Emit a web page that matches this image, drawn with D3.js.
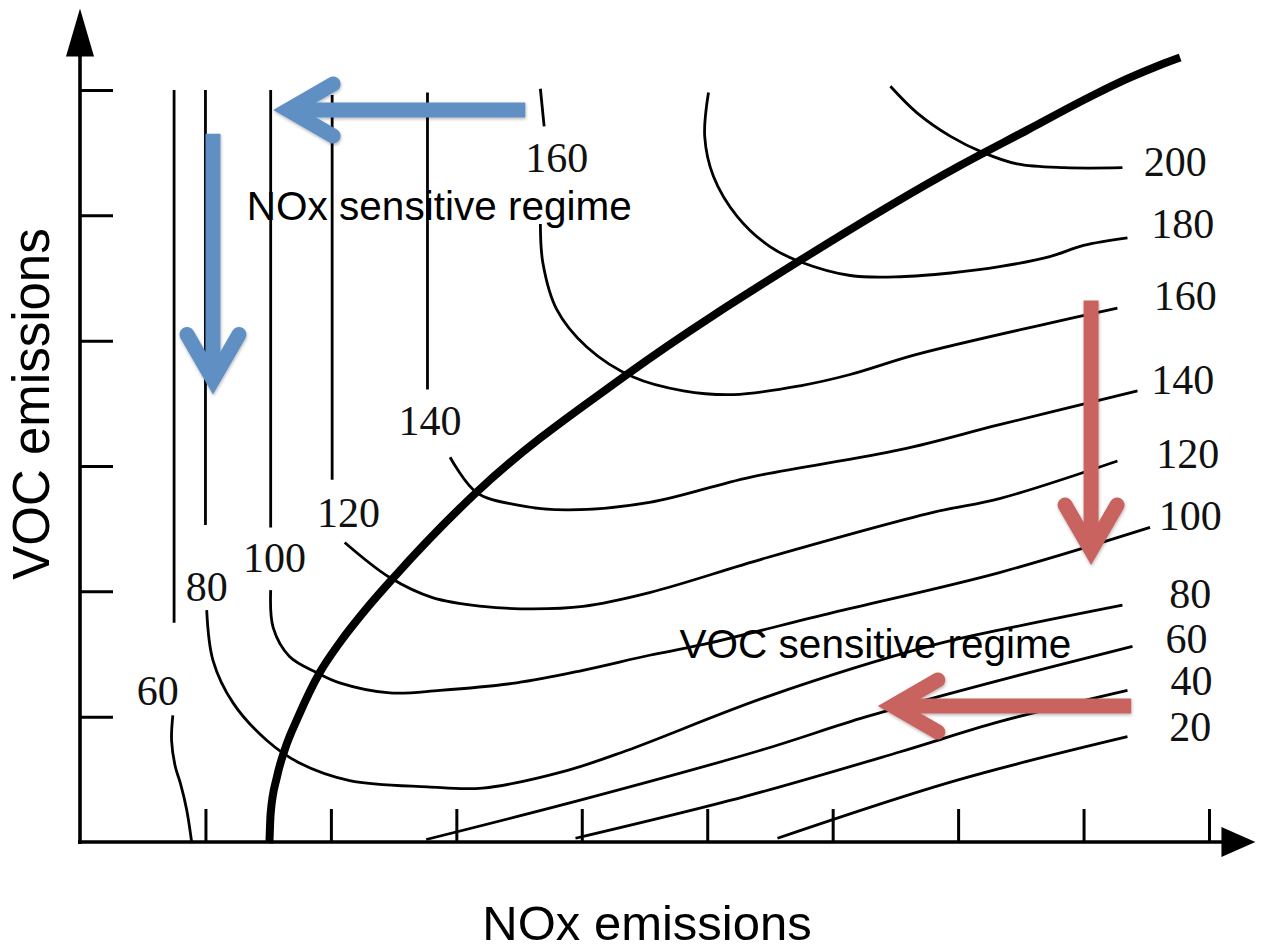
<!DOCTYPE html>
<html>
<head>
<meta charset="utf-8">
<script src="https://cdn.jsdelivr.net/npm/d3@7"></script>
<style>
  html, body { margin: 0; padding: 0; background: #fff; }
  svg { display: block; }
</style>
</head>
<body>
<svg id="chart" width="1271" height="950"></svg>
<script>
// Ozone isopleth diagram: peak ozone (ppb) as a function of NOx and VOC emissions.
// Coordinates are [NOx, VOC] in arbitrary emission units.

const xTicks = [1, 2, 3, 4, 5, 6, 7, 8, 9];
const yTicks = [1, 2, 3, 4, 5, 6];

// Each isopleth is a list of drawn pieces (split where its label sits).
const iso20 = [
  [[5.56, 0.03], [6.98, 0.49], [8.35, 0.84]]
];
const iso40 = [
  [[3.95, 0.03], [5.29, 0.36], [6.54, 0.72], [7.33, 0.96], [8.35, 1.21]]
];
const iso60 = [
  [[0.75, 6.00], [0.75, 1.75]],
  [[0.74, 1.01], [0.73, 0.81], [0.76, 0.60], [0.80, 0.47], [0.85, 0.26], [0.89, 0.00]],
  [[2.76, 0.02], [4.01, 0.34], [5.42, 0.73], [6.27, 1.00], [7.33, 1.29], [8.39, 1.56]]
];
const iso80 = [
  [[1.00, 6.00], [1.00, 2.53]],
  [[1.01, 1.85], [1.06, 1.45], [1.22, 1.11], [1.49, 0.81], [1.75, 0.63], [2.15, 0.49],
   [2.77, 0.44], [3.21, 0.43], [3.88, 0.57], [4.36, 0.73], [5.48, 1.16], [6.80, 1.57],
   [7.42, 1.71], [8.31, 1.89]]
];
const iso100 = [
  [[1.52, 6.00], [1.52, 2.51]],
  [[1.52, 2.01], [1.54, 1.71], [1.67, 1.48], [1.89, 1.35], [2.07, 1.27], [2.47, 1.19],
   [2.87, 1.21], [3.48, 1.27], [4.01, 1.37], [4.54, 1.49], [4.94, 1.57], [6.00, 1.83],
   [7.33, 2.15], [8.53, 2.51]]
];
const iso120 = [
  [[2.01, 5.96], [2.01, 2.89]],
  [[2.11, 2.39], [2.47, 2.11], [2.81, 1.95], [3.21, 1.88], [3.61, 1.86], [4.01, 1.88],
   [4.54, 1.99], [5.48, 2.27], [6.80, 2.63], [7.33, 2.74], [8.27, 3.04]]
];
const iso140 = [
  [[2.77, 5.98], [2.77, 3.61]],
  [[2.95, 3.07], [3.16, 2.79], [3.48, 2.69], [3.88, 2.65], [4.54, 2.71], [5.34, 2.91],
   [6.54, 3.13], [7.33, 3.33], [8.43, 3.60]]
];
const iso160 = [
  [[3.67, 6.01], [3.70, 5.71]],
  [[3.67, 4.93], [3.69, 4.62], [3.80, 4.25], [4.04, 3.95], [4.41, 3.71], [4.81, 3.60],
   [5.21, 3.57], [5.74, 3.64], [6.14, 3.73], [6.67, 3.89], [7.73, 4.14], [8.27, 4.26]]
];
const iso180 = [
  [[5.01, 5.98], [4.98, 5.63], [5.05, 5.31], [5.24, 4.99], [5.50, 4.75], [5.74, 4.63],
   [6.14, 4.52], [6.54, 4.51], [6.94, 4.54], [7.33, 4.59], [7.73, 4.67], [8.00, 4.76],
   [8.35, 4.82]]
];
const iso200 = [
  [[6.46, 6.03], [6.67, 5.82], [6.94, 5.63], [7.20, 5.50], [7.47, 5.41], [7.85, 5.38],
   [8.31, 5.38]]
];

// Ridge line separating the NOx-limited and VOC-limited regimes.
const ridge = [
  [1.51, -0.01], [1.52, 0.23], [1.57, 0.52], [1.63, 0.73], [1.74, 1.00], [1.91, 1.35],
  [2.07, 1.59], [2.29, 1.87], [2.50, 2.11], [3.16, 2.79], [4.36, 3.73], [5.74, 4.64],
  [7.02, 5.40], [7.55, 5.68], [8.08, 5.96], [8.35, 6.09], [8.61, 6.20], [8.77, 6.26]
];

// Level labels: [ozone level, NOx, VOC] of the label centre.
const levelLabels = [
  [60, 0.62, 1.21], [80, 1.01, 2.04], [100, 1.55, 2.27], [120, 2.14, 2.63],
  [140, 2.79, 3.36], [160, 3.80, 5.46],
  [200, 8.73, 5.43], [180, 8.79, 4.93], [160, 8.81, 4.36], [140, 8.79, 3.69],
  [120, 8.83, 3.10], [100, 8.85, 2.60], [80, 8.85, 1.98], [60, 8.82, 1.62],
  [40, 8.86, 1.29], [20, 8.85, 0.92]
];

// Emission-control arrows: tail and tip in [NOx, VOC].
const arrowTails = [[3.55, 5.84], [1.06, 5.65], [8.06, 4.32], [8.38, 1.085]];
const arrowTips  = [[1.54, 5.84], [1.06, 3.57], [8.06, 2.21], [6.36, 1.085]];
const arrowKinds = ["nox", "nox", "voc", "voc"];

const regimeNames = ["NOx sensitive regime", "VOC sensitive regime"];
const regimeAnchors = [[1.33, 4.96], [4.78, 1.47]];

const isopleths = [
  { level: 20, pieces: iso20 }, { level: 40, pieces: iso40 }, { level: 60, pieces: iso60 },
  { level: 80, pieces: iso80 }, { level: 100, pieces: iso100 }, { level: 120, pieces: iso120 },
  { level: 140, pieces: iso140 }, { level: 160, pieces: iso160 }, { level: 180, pieces: iso180 },
  { level: 200, pieces: iso200 }
];

const svg = d3.select("#chart");
const x = d3.scaleLinear().domain([0, 9]).range([80, 1209]);
const y = d3.scaleLinear().domain([0, 6]).range([842, 90]);
const arrowColor = { nox: "#5e8fc3", voc: "#c8635e" };

const defs = svg.append("defs");
const shadow = defs.append("filter").attr("id", "soft").attr("x", "-20%").attr("y", "-20%")
  .attr("width", "140%").attr("height", "140%");
shadow.append("feDropShadow").attr("dx", 0.5).attr("dy", 1.5)
  .attr("stdDeviation", 1.6).attr("flood-color", "#000").attr("flood-opacity", 0.3);

const line = d3.line().x(d => x(d[0])).y(d => y(d[1])).curve(d3.curveCatmullRom.alpha(0.5));
const ridgeLine = d3.line().x(d => x(d[0])).y(d => y(d[1])).curve(d3.curveMonotoneX);

// Isopleths
const isoG = svg.append("g").attr("fill", "none").attr("stroke", "#000")
  .attr("stroke-width", 2.8).attr("stroke-linecap", "butt");
isopleths.forEach(iso => {
  iso.pieces.forEach(piece => {
    isoG.append("path").attr("d", line(piece));
  });
});

// Ridge
svg.append("path").attr("d", ridgeLine(ridge)).attr("fill", "none")
  .attr("stroke", "#000").attr("stroke-width", 8).attr("stroke-linecap", "butt");

// Axes with inward ticks
const yAxis = svg.append("g").attr("transform", `translate(${x(0)},0)`)
  .call(d3.axisRight(y).tickValues(yTicks).tickSize(33).tickSizeOuter(0).tickFormat(""));
const xAxis = svg.append("g").attr("transform", `translate(0,${y(0)})`)
  .call(d3.axisTop(x).tickValues(xTicks).tickSize(33).tickSizeOuter(0).tickFormat(""));
[yAxis, xAxis].forEach(g => {
  g.select(".domain").remove();
  g.selectAll(".tick line").attr("stroke", "#000").attr("stroke-width", 3);
});

const x0 = x(0), y0 = y(0);
const yTip = y(6.65), xTip = x(9.37);
svg.append("line").attr("x1", x0).attr("y1", y0 + 2).attr("x2", x0).attr("y2", yTip + 46)
  .attr("stroke", "#000").attr("stroke-width", 3.6);
svg.append("line").attr("x1", x0 - 2).attr("y1", y0).attr("x2", xTip - 32).attr("y2", y0)
  .attr("stroke", "#000").attr("stroke-width", 3.6);
svg.append("path")
  .attr("d", `M${x0},${yTip} L${x0 + 14},${yTip + 48} L${x0 - 14},${yTip + 48} Z`)
  .attr("fill", "#000");
svg.append("path")
  .attr("d", `M${xTip},${y0} L${xTip - 34},${y0 - 15} L${xTip - 34},${y0 + 15} Z`)
  .attr("fill", "#000");

// Level labels
svg.append("g").selectAll("text").data(levelLabels).join("text")
  .attr("x", d => x(d[1])).attr("y", d => y(d[2])).attr("dy", "0.34em")
  .attr("text-anchor", "middle")
  .attr("font-family", "'Liberation Serif', 'Times New Roman', serif")
  .attr("font-size", 42).attr("fill", "#111")
  .text(d => d[0]);

// Regime names
svg.append("g").selectAll("text").data(regimeNames).join("text")
  .attr("x", (d, i) => x(regimeAnchors[i][0])).attr("y", (d, i) => y(regimeAnchors[i][1]))
  .attr("font-family", "'Liberation Sans', Arial, Helvetica, sans-serif")
  .attr("font-size", 40.5).attr("fill", "#000")
  .text(d => d);

// Arrows
const arrowG = svg.append("g");
arrowTails.forEach((t, i) => {
  const tx = x(t[0]), ty = y(t[1]);
  const px = x(arrowTips[i][0]), py = y(arrowTips[i][1]);
  const len = Math.hypot(px - tx, py - ty);
  const dx = (px - tx) / len, dy = (py - ty) / len;
  const nx = -dy, ny = dx;
  const w = 15, back = 45, half = 26;
  const vx = px - dx * 15, vy = py - dy * 15;
  const col = arrowColor[arrowKinds[i]];
  const g = arrowG.append("g").attr("filter", "url(#soft)");
  g.append("line").attr("x1", tx).attr("y1", ty).attr("x2", vx).attr("y2", vy)
    .attr("stroke", col).attr("stroke-width", w).attr("stroke-linecap", "butt");
  const w1 = [vx - dx * back + nx * half, vy - dy * back + ny * half];
  const w2 = [vx - dx * back - nx * half, vy - dy * back - ny * half];
  g.append("path")
    .attr("d", `M${w1[0]},${w1[1]} L${vx},${vy} L${w2[0]},${w2[1]}`)
    .attr("fill", "none").attr("stroke", col).attr("stroke-width", w)
    .attr("stroke-linecap", "round").attr("stroke-linejoin", "miter").attr("stroke-miterlimit", 10);
});

// Axis titles
svg.append("text").attr("x", 647).attr("y", 940).attr("text-anchor", "middle")
  .attr("font-family", "'Liberation Sans', Arial, Helvetica, sans-serif")
  .attr("font-size", 49).attr("fill", "#000").text("NOx emissions");
svg.append("text").attr("transform", "translate(49,404) rotate(-90)").attr("text-anchor", "middle")
  .attr("font-family", "'Liberation Sans', Arial, Helvetica, sans-serif")
  .attr("font-size", 51).attr("fill", "#000").text("VOC emissions");
</script>
</body>
</html>
